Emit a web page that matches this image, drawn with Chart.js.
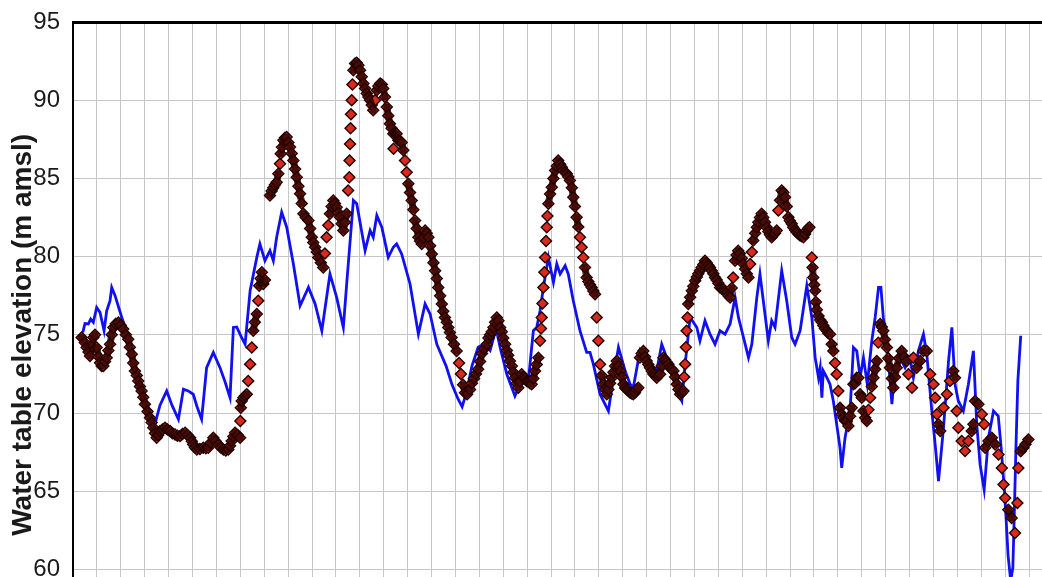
<!DOCTYPE html>
<html>
<head>
<meta charset="utf-8">
<title>Water table elevation</title>
<script src="https://cdn.jsdelivr.net/npm/chart.js@4"></script>
<style>
  html, body { margin: 0; padding: 0; background: #fff; overflow: hidden; }
  #wrap { width: 1070px; height: 662px; }
</style>
</head>
<body>
<div id="wrap"><canvas id="chart" width="1070" height="662"></canvas></div>
<script>
// y axis ticks (m amsl)
const yTicks = [55, 60, 65, 70, 75, 80, 85, 90, 95];

// simulated water table: [time step, elevation]
const simPoints = [
  [0.41,75.15],[0.50,75.72],[0.64,75.69],[0.74,76.0],[0.85,75.79],[0.99,76.75],[1.13,76.43],[1.30,75.26],[1.41,76.54],[1.55,77.18],
  [1.62,78.03],[1.76,77.5],[2.04,76.11],[2.18,75.5],[2.38,74.5],[2.59,73.0],[2.80,71.8],[3.01,70.5],[3.22,69.5],[3.43,69.3],
  [3.64,70.5],[3.92,71.41],[4.14,70.5],[4.41,69.6],[4.62,71.52],[4.82,71.41],[5.03,71.2],[5.19,70.4],[5.38,69.6],[5.59,72.9],
  [5.87,73.87],[6.15,72.9],[6.36,72.0],[6.57,70.98],[6.71,75.47],[6.85,75.5],[7.03,74.9],[7.20,74.4],[7.41,77.82],[7.69,79.95],
  [7.82,80.81],[8.03,79.74],[8.24,80.38],[8.38,79.74],[8.52,81.24],[8.73,82.84],[8.94,81.88],[9.22,79.53],[9.50,76.86],[9.85,78.03],
  [10.13,76.97],[10.41,75.26],[10.75,78.89],[11.03,77.39],[11.31,75.47],[11.45,78.25],[11.73,83.59],[11.87,83.38],[12.22,80.38],[12.43,81.67],
  [12.56,81.24],[12.71,82.63],[12.92,81.88],[13.19,79.95],[13.40,80.6],[13.54,80.81],[13.75,80.17],[14.10,78.25],[14.45,75.04],[14.73,76.97],
  [14.94,76.33],[15.22,74.4],[15.61,73.0],[15.86,71.8],[16.11,70.9],[16.28,70.4],[16.44,71.2],[16.69,73.0],[16.95,74.2],[17.20,74.4],
  [17.45,74.0],[17.70,75.4],[17.87,74.19],[18.15,72.48],[18.49,71.09],[18.70,71.84],[19.05,72.05],[19.26,75.26],[19.40,75.47],[19.54,76.54],
  [19.68,78.03],[19.89,79.95],[20.10,78.35],[20.24,79.53],[20.38,78.89],[20.59,79.42],[20.72,78.89],[20.93,77.18],[21.21,75.26],[21.49,73.87],
  [21.63,73.87],[21.77,73.12],[22.05,71.2],[22.33,70.34],[22.40,70.13],[22.61,72.26],[22.82,74.19],[23.10,72.69],[23.31,71.84],[23.44,71.62],
  [23.72,73.97],[23.93,73.33],[24.14,72.48],[24.42,72.69],[24.63,74.4],[24.84,73.54],[25.05,73.12],[25.26,71.41],[25.47,70.77],[25.61,73.12],
  [25.82,76.11],[26.10,75.47],[26.23,74.62],[26.44,75.9],[26.65,75.04],[26.86,74.4],[27.07,75.26],[27.28,75.04],[27.49,75.69],[27.70,77.39],
  [27.84,76.11],[28.05,74.83],[28.26,73.54],[28.40,74.4],[28.61,77.39],[28.74,78.89],[28.88,77.18],[29.09,74.62],[29.23,75.9],[29.37,75.47],
  [29.65,79.1],[29.86,77.18],[30.07,74.83],[30.21,74.4],[30.42,75.26],[30.70,78.14],[30.91,76.11],[31.05,73.54],[31.19,72.26],[31.26,72.9],
  [31.33,70.98],[31.39,72.69],[31.54,72.26],[31.67,71.84],[31.81,70.77],[31.95,69.28],[32.09,67.78],[32.16,66.49],[32.30,68.42],[32.51,70.13],
  [32.65,74.19],[32.79,73.97],[32.93,72.26],[33.07,73.54],[33.23,71.84],[33.42,74.62],[33.56,76.11],[33.70,78.03],[33.80,78.03],[33.90,76.11],
  [34.05,74.62],[34.26,70.56],[34.39,72.9],[34.60,73.54],[34.81,72.9],[35.02,73.54],[35.16,72.26],[35.37,73.97],[35.58,75.04],[35.72,73.76],
  [35.93,70.13],[36.07,67.99],[36.21,65.64],[36.42,69.06],[36.63,73.33],[36.77,75.47],[36.90,71.84],[37.04,70.77],[37.25,70.13],[37.46,71.84],
  [37.67,73.97],[37.81,69.28],[37.95,66.71],[38.12,65.1],[38.30,68.42],[38.51,70.13],[38.71,69.8],[38.83,67.8],[38.97,65.0],[39.05,62.9],
  [39.12,60.9],[39.23,59.3],[39.32,60.1],[39.38,63.5],[39.45,67.8],[39.53,72.05],[39.65,74.94]
];

// observed water table: [time step, elevation]
const obsPoints = [
  [0.36,74.83],[0.49,74.5],[0.57,74.19],[0.65,73.9],[0.71,73.65],[0.79,74.3],[0.85,74.83],[0.92,75.0],[0.99,74.19],[1.07,73.6],
  [1.13,73.22],[1.20,73.0],[1.27,73.01],[1.34,73.3],[1.41,73.54],[1.48,74.0],[1.55,74.4],[1.62,75.0],[1.69,75.47],[1.79,75.7],
  [1.90,75.79],[2.00,75.6],[2.10,75.37],[2.21,75.0],[2.31,74.72],[2.38,74.2],[2.46,73.76],[2.52,73.2],[2.59,72.69],[2.67,72.4],
  [2.73,72.05],[2.80,71.7],[2.87,71.41],[2.94,71.0],[3.01,70.56],[3.12,70.1],[3.22,69.7],[3.29,69.4],[3.36,69.06],[3.43,68.7],
  [3.50,68.42],[3.57,68.6],[3.64,68.85],[3.74,68.95],[3.85,69.06],[3.95,68.95],[4.06,68.85],[4.16,68.7],[4.27,68.63],[4.37,68.55],
  [4.48,68.53],[4.58,68.65],[4.69,68.74],[4.79,68.6],[4.90,68.42],[4.97,68.2],[5.03,67.99],[5.10,67.8],[5.18,67.67],[5.31,67.7],
  [5.45,67.78],[5.56,67.75],[5.66,67.78],[5.76,68.1],[5.87,68.42],[5.97,68.2],[6.08,67.99],[6.18,67.8],[6.29,67.67],[6.39,67.6],
  [6.50,67.67],[6.57,67.9],[6.64,68.21],[6.71,68.5],[6.78,68.74],[6.89,68.6],[6.99,68.42],[7.00,69.49],[7.02,70.34],[7.06,70.77],
  [7.13,70.98],[7.20,71.1],[7.27,71.2],[7.33,72.05],[7.41,73.12],[7.48,74.19],[7.54,75.26],[7.61,75.8],[7.69,76.33],[7.75,77.18],
  [7.79,78.14],[7.85,78.6],[7.90,79.0],[7.96,78.25],[8.03,78.5],
  [8.24,83.91],[8.31,84.2],[8.38,84.4],[8.45,84.6],[8.52,84.76],[8.59,85.3],[8.66,85.94],[8.69,86.58],[8.74,87.0],[8.80,87.44],
  [8.87,87.6],[8.94,87.65],[9.01,87.3],[9.08,87.0],[9.15,86.6],[9.22,86.15],[9.29,85.6],[9.36,85.08],[9.43,84.5],[9.50,84.02],
  [9.57,83.4],[9.64,82.74],[9.74,82.5],[9.85,82.31],[9.92,81.8],[9.99,81.24],[10.05,80.9],[10.13,80.6],[10.20,80.3],[10.26,79.95],
  [10.37,79.6],[10.47,79.31],[10.54,80.2],[10.61,81.24],[10.68,82.0],[10.75,82.74],[10.82,83.2],[10.89,83.59],[10.96,83.4],[11.03,83.16],
  [11.10,82.8],[11.17,82.52],[11.24,82.1],[11.31,81.67],[11.38,82.2],[11.45,82.74],[11.51,84.23],[11.56,85.08],[11.57,86.15],[11.59,87.2],
  [11.61,88.2],[11.63,89.1],[11.66,90.0],[11.69,91.0],[11.73,91.92],[11.80,92.35],[11.87,92.4],[11.94,92.24],[12.01,91.92],[12.08,91.5],
  [12.15,91.07],[12.22,90.75],[12.29,90.43],[12.36,90.2],[12.43,90.0],[12.50,89.7],[12.56,89.36],[12.64,90.0],[12.71,90.64],[12.77,90.9],
  [12.85,91.07],[12.92,91.0],[12.98,90.75],[13.05,90.2],[13.13,89.57],[13.19,89.0],[13.26,88.5],[13.33,88.2],[13.40,87.86],[13.41,86.9],
  [13.47,87.9],[13.54,87.86],[13.61,87.44],[13.68,87.4],[13.75,87.3],[13.82,86.8],[13.89,86.15],[13.96,85.4],[14.03,84.66],[14.10,84.1],
  [14.17,83.59],[14.24,83.0],[14.31,82.31],[14.38,81.8],[14.45,81.24],[14.52,81.0],[14.59,80.81],[14.66,81.2],[14.73,81.67],[14.80,81.5],
  [14.87,81.24],[14.94,80.7],[15.01,80.17],[15.08,79.6],[15.15,79.1],[15.22,78.6],[15.28,78.03],[15.36,77.5],[15.43,76.97],[15.49,76.5],
  [15.56,76.11],[15.64,75.8],[15.70,75.47],[15.77,75.15],[15.84,74.83],[15.94,74.4],[16.05,73.97],[16.15,73.2],[16.23,72.5],[16.32,71.8],
  [16.40,71.3],[16.49,71.2],[16.61,71.5],[16.69,71.9],[16.78,72.2],[16.86,72.5],[16.95,72.8],[17.03,73.3],[17.11,73.8],[17.20,74.1],
  [17.31,74.4],[17.38,74.8],[17.45,75.0],[17.52,75.2],[17.59,75.47],[17.66,75.8],[17.73,76.1],[17.80,75.9],[17.87,75.47],[17.94,75.2],
  [18.00,74.8],[18.08,74.4],[18.15,74.0],[18.21,73.7],[18.28,73.33],[18.36,73.0],[18.42,72.6],[18.49,72.26],[18.56,71.9],[18.63,71.62],
  [18.70,72.0],[18.77,72.48],[18.84,72.3],[18.91,72.2],[18.98,72.05],[19.05,72.0],[19.12,71.9],[19.19,71.84],[19.26,72.2],[19.33,72.69],
  [19.40,73.1],[19.47,73.54],[19.54,74.62],[19.58,75.4],[19.61,76.11],[19.64,77.0],[19.68,78.03],[19.72,79.0],[19.75,79.95],[19.79,81.0],
  [19.82,81.88],[19.85,82.6],[19.89,83.38],[19.96,84.0],[20.03,84.44],[20.10,85.0],[20.17,85.51],[20.24,85.8],[20.30,86.15],[20.38,85.9],
  [20.45,85.72],[20.51,85.5],[20.59,85.4],[20.66,85.3],[20.72,85.1],[20.79,84.87],[20.87,84.4],[20.93,83.8],[21.00,83.2],[21.07,82.52],
  [21.14,81.9],[21.21,81.24],[21.28,80.6],[21.35,79.95],[21.42,79.3],[21.49,78.67],[21.56,78.4],[21.63,78.2],[21.70,78.03],[21.77,77.8],
  [21.84,77.6],[21.91,76.11],[21.98,74.62],[22.05,73.12],[22.12,72.4],[22.19,71.84],[22.26,71.5],[22.33,71.2],[22.40,71.5],[22.47,71.9],
  [22.54,72.26],[22.61,72.6],[22.68,73.0],[22.75,73.33],[22.82,73.0],[22.89,72.69],[22.96,72.3],[23.03,71.84],[23.10,71.6],[23.17,71.5],
  [23.24,71.41],[23.31,71.3],[23.38,71.25],[23.44,71.2],[23.51,71.3],[23.58,71.5],[23.65,71.62],[23.72,73.54],[23.79,73.8],[23.86,73.97],
  [23.93,73.6],[24.00,73.33],[24.07,73.1],[24.14,72.9],[24.21,72.69],[24.28,72.5],[24.35,72.4],[24.42,72.26],[24.49,72.4],[24.56,72.48],
  [24.63,73.0],[24.70,73.54],[24.77,73.4],[24.84,73.25],[24.91,73.12],[24.98,72.9],[25.05,72.8],[25.12,72.69],[25.19,72.3],[25.26,71.84],
  [25.33,71.5],[25.40,71.2],[25.47,71.3],[25.54,71.41],[25.57,72.3],[25.61,73.12],[25.64,74.2],[25.67,75.26],[25.71,76.1],[25.74,76.97],
  [25.82,77.4],[25.89,77.82],[25.95,78.1],[26.03,78.46],[26.10,78.7],[26.16,78.9],[26.23,79.1],[26.30,79.3],[26.37,79.5],[26.44,79.74],
  [26.51,79.6],[26.58,79.45],[26.65,79.31],[26.72,79.1],[26.79,78.9],[26.86,78.67],[26.93,78.5],[27.00,78.3],[27.07,78.03],[27.14,77.95],
  [27.21,77.9],[27.28,77.82],[27.35,77.7],[27.42,77.5],[27.49,77.39],[27.56,78.0],[27.62,78.67],[27.70,79.74],[27.76,80.1],[27.83,80.38],
  [27.90,80.2],[27.98,79.9],[28.05,79.53],[28.12,79.2],[28.19,78.9],[28.26,78.67],[28.33,79.53],[28.40,80.3],[28.46,81.03],[28.54,81.5],
  [28.61,81.88],[28.67,82.2],[28.74,82.5],[28.81,82.74],[28.88,82.5],[28.95,82.2],[29.02,81.88],[29.09,81.6],[29.16,81.4],[29.23,81.24],
  [29.30,81.4],[29.37,81.5],[29.44,81.67],[29.51,82.95],[29.58,83.6],[29.65,84.23],[29.72,84.1],[29.79,83.8],[29.86,83.2],[29.93,82.52],
  [29.99,82.3],[30.07,82.1],[30.13,81.88],[30.21,81.7],[30.28,81.55],[30.35,81.45],[30.42,81.35],[30.49,81.3],[30.56,81.24],[30.63,81.45],
  [30.70,81.67],[30.75,81.8],[30.81,81.88],[30.91,79.95],[30.94,79.3],[30.97,78.67],[31.01,78.2],[31.05,77.82],[31.08,77.1],[31.12,76.6],
  [31.19,76.2],[31.26,75.95],[31.33,75.8],[31.39,75.6],[31.46,75.4],[31.54,75.26],[31.60,75.1],[31.67,75.04],[31.74,74.4],[31.81,73.97],
  [31.88,73.2],[31.95,72.48],[32.02,71.41],[32.09,70.34],[32.16,69.92],[32.23,69.7],[32.30,69.5],[32.37,69.49],[32.44,69.17],[32.51,69.8],
  [32.58,70.34],[32.65,71.84],[32.72,71.9],[32.79,72.26],[32.86,72.26],[32.93,71.2],[33.00,70.98],[33.07,70.13],[33.14,69.7],[33.21,69.49],
  [33.28,70.2],[33.35,70.98],[33.42,71.7],[33.49,72.26],[33.56,72.8],[33.63,73.33],[33.69,74.5],[33.77,75.69],[33.84,75.5],[33.90,75.26],
  [33.97,74.7],[34.05,74.19],[34.11,73.5],[34.18,72.9],[34.26,72.2],[34.32,71.62],[34.39,72.3],[34.46,72.9],[34.56,73.5],[34.67,73.97],
  [34.77,73.6],[34.88,73.33],[34.95,72.48],[35.10,71.62],[35.16,73.54],[35.30,72.9],[35.44,73.33],[35.58,73.97],[35.72,73.97],[35.86,72.48],
  [36.00,71.84],[36.07,70.98],[36.14,69.92],[36.21,69.28],[36.28,68.85],[36.42,70.34],[36.56,71.2],[36.69,72.05],[36.83,72.69],[36.90,72.26],
  [36.97,70.13],[37.04,69.06],[37.18,68.21],[37.32,67.57],[37.46,68.21],[37.60,68.85],[37.67,69.28],[37.74,70.77],[37.88,70.56],[38.02,69.92],
  [38.12,69.28],[38.16,67.78],[38.30,68.21],[38.44,68.42],[38.58,67.99],[38.72,67.35],[38.86,66.49],[38.93,65.43],[39.00,64.57],[39.13,63.82],
  [39.27,63.29],[39.41,62.33],[39.51,64.25],[39.55,66.49],[39.65,67.56],[39.76,67.78],[39.85,68.0],[39.97,68.31]
];

const xMax = 41; // grid columns, the last ones run past the right edge

const toXY = (pts) => pts.map(([x, y]) => ({ x, y }));

const gridColor = '#c6c6c6';
const darkBand = 'rgba(36, 4, 0, 0.8)';

// Dense runs of observations merge into a dark band; isolated ones stay as red diamonds
function bandColor(ctx) {
  const dx = ctx.p1.x - ctx.p0.x;
  const dy = ctx.p1.y - ctx.p0.y;
  return Math.hypot(dx, dy) > 10 ? 'rgba(0,0,0,0)' : darkBand;
}

const chart = new Chart(document.getElementById('chart'), {
  type: 'scatter',
  data: {
    datasets: [
      {
        label: 'Observed (band)',
        data: toXY(obsPoints),
        showLine: true,
        pointRadius: 0,
        borderWidth: 7,
        borderColor: darkBand,
        borderJoinStyle: 'round',
        borderCapStyle: 'round',
        segment: { borderColor: bandColor },
        order: -1,
      },
      {
        label: 'Observed',
        data: toXY(obsPoints),
        showLine: false,
        pointStyle: 'rectRot',
        pointRadius: 5.5,
        pointBackgroundColor: '#da2a1e',
        pointBorderColor: '#220300',
        pointBorderWidth: 1.4,
        order: 0,
      },
      {
        label: 'Simulated',
        data: toXY(simPoints),
        showLine: true,
        borderColor: '#1010f2',
        borderWidth: 2.8,
        pointRadius: 0,
        tension: 0,
        order: 1,
      },
    ]
  },
  options: {
    responsive: false,
    animation: false,
    layout: { padding: { top: 22, right: 17, bottom: 14, left: 0 } },
    plugins: {
      legend: { display: false },
      tooltip: { enabled: false },
    },
    scales: {
      x: {
        type: 'linear',
        min: 0,
        max: xMax,
        ticks: { display: false, stepSize: 1, autoSkip: false },
        grid: { color: gridColor, lineWidth: 1, drawTicks: false },
        border: { display: false },
      },
      xTop: {
        type: 'linear',
        position: 'top',
        min: 0,
        max: xMax,
        ticks: { display: false },
        grid: { drawOnChartArea: false, drawTicks: false },
        border: { color: '#000', width: 3 },
      },
      y: {
        min: yTicks[0],
        max: yTicks[yTicks.length - 1],
        afterFit(scale) { scale.width = 73; },
        afterBuildTicks(scale) { scale.ticks = yTicks.map((v) => ({ value: v })); },
        ticks: {
          padding: 0,
          color: '#1a1a1a',
          font: { family: "'Liberation Sans', Arial, sans-serif", size: 24 },
        },
        // invisible tick marks give the label gap without padding the chart area
        grid: { color: gridColor, lineWidth: 1, drawTicks: true, tickLength: 13, tickColor: 'rgba(0,0,0,0)' },
        border: { color: '#000', width: 2 },
        title: {
          display: true,
          text: 'Water table elevation (m amsl)',
          color: '#1a1a1a',
          padding: { top: 6, bottom: 0 },
          font: { family: "'Liberation Sans', Arial, sans-serif", size: 28, weight: 'bold' },
        },
      },
    },
  },
});
</script>
</body>
</html>
